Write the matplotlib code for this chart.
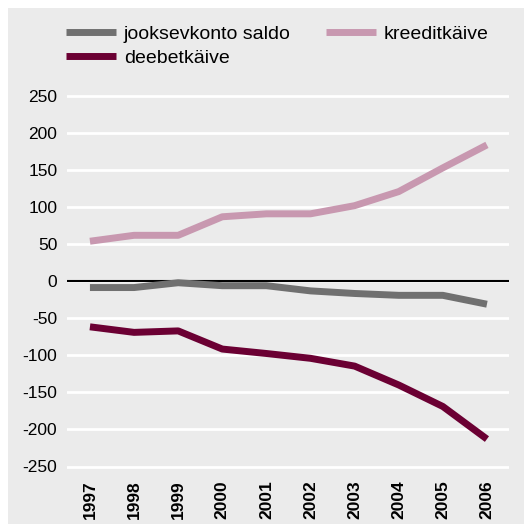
import numpy as np
import matplotlib.pyplot as plt
from matplotlib.patches import Rectangle

plt.rcParams['font.family'] = ['Liberation Sans', 'DejaVu Sans']

years = [1997, 1998, 1999, 2000, 2001, 2002, 2003, 2004, 2005, 2006]
saldo = [-8.5, -8.5, -2, -6, -6, -13, -16.5, -19, -19, -31]
kreedit = [54, 62, 62, 87, 91, 91, 102, 121, 153, 184]
deebet = [-61.5, -69, -67, -91.5, -97.5, -104, -114.5, -140, -169, -213]
yticks = [-250, -200, -150, -100, -50, 0, 50, 100, 150, 200, 250]

W, H = 531, 528
bg = '#ebebeb'
fig = plt.figure(figsize=(W / 100, H / 100), dpi=100)
fig.patch.set_facecolor('white')
fig.patches.append(Rectangle((8 / W, 4 / H), 516 / W, 516 / H, transform=fig.transFigure,
                             facecolor=bg, edgecolor='none', zorder=-10))

ax = fig.add_axes([67 / W, (H - 475) / H, (509 - 67) / W, (475 - 88) / H])
ax.set_facecolor(bg)
x = np.arange(len(years))

ax.plot(x, saldo, color='#707070', lw=5, solid_capstyle='butt', label='jooksevkonto saldo')
ax.plot(x, deebet, color='#6b0033', lw=5, solid_capstyle='butt', label='deebetkäive')
ax.plot(x, kreedit, color='#c898b0', lw=5, solid_capstyle='butt', label='kreeditkäive')

# y range: 250 at px 96, -250 at px 466.5
ppu = (466.5 - 96) / 500
ax.set_ylim(-250 - (475 - 466.5) / ppu, 250 + (96 - 88) / ppu)
ax.set_xlim(-0.52, 9.5)
ax.set_yticks(yticks)
ax.set_yticklabels([str(v) for v in yticks], fontsize=12.5)
ax.set_xticks(x)
ax.set_xticklabels([str(y) for y in years], rotation=90, fontsize=12.5, fontweight='bold')
ax.tick_params(axis='x', length=0, pad=4)
ax.tick_params(axis='y', length=0, pad=7)
ax.grid(axis='y', color='white', lw=2)
ax.set_axisbelow(True)
ax.axhline(0, color='black', lw=1.5, zorder=1.5)
for s in ax.spines.values():
    s.set_visible(False)

leg = fig.legend(ncol=2, loc='upper left', bbox_to_anchor=(48 / W, 1 - 8 / H),
                 frameon=False, fontsize=14, handlelength=2.6,
                 columnspacing=1.8, labelspacing=0.3, handletextpad=0.4)

fig.savefig('out.png', dpi=100, facecolor='white')
